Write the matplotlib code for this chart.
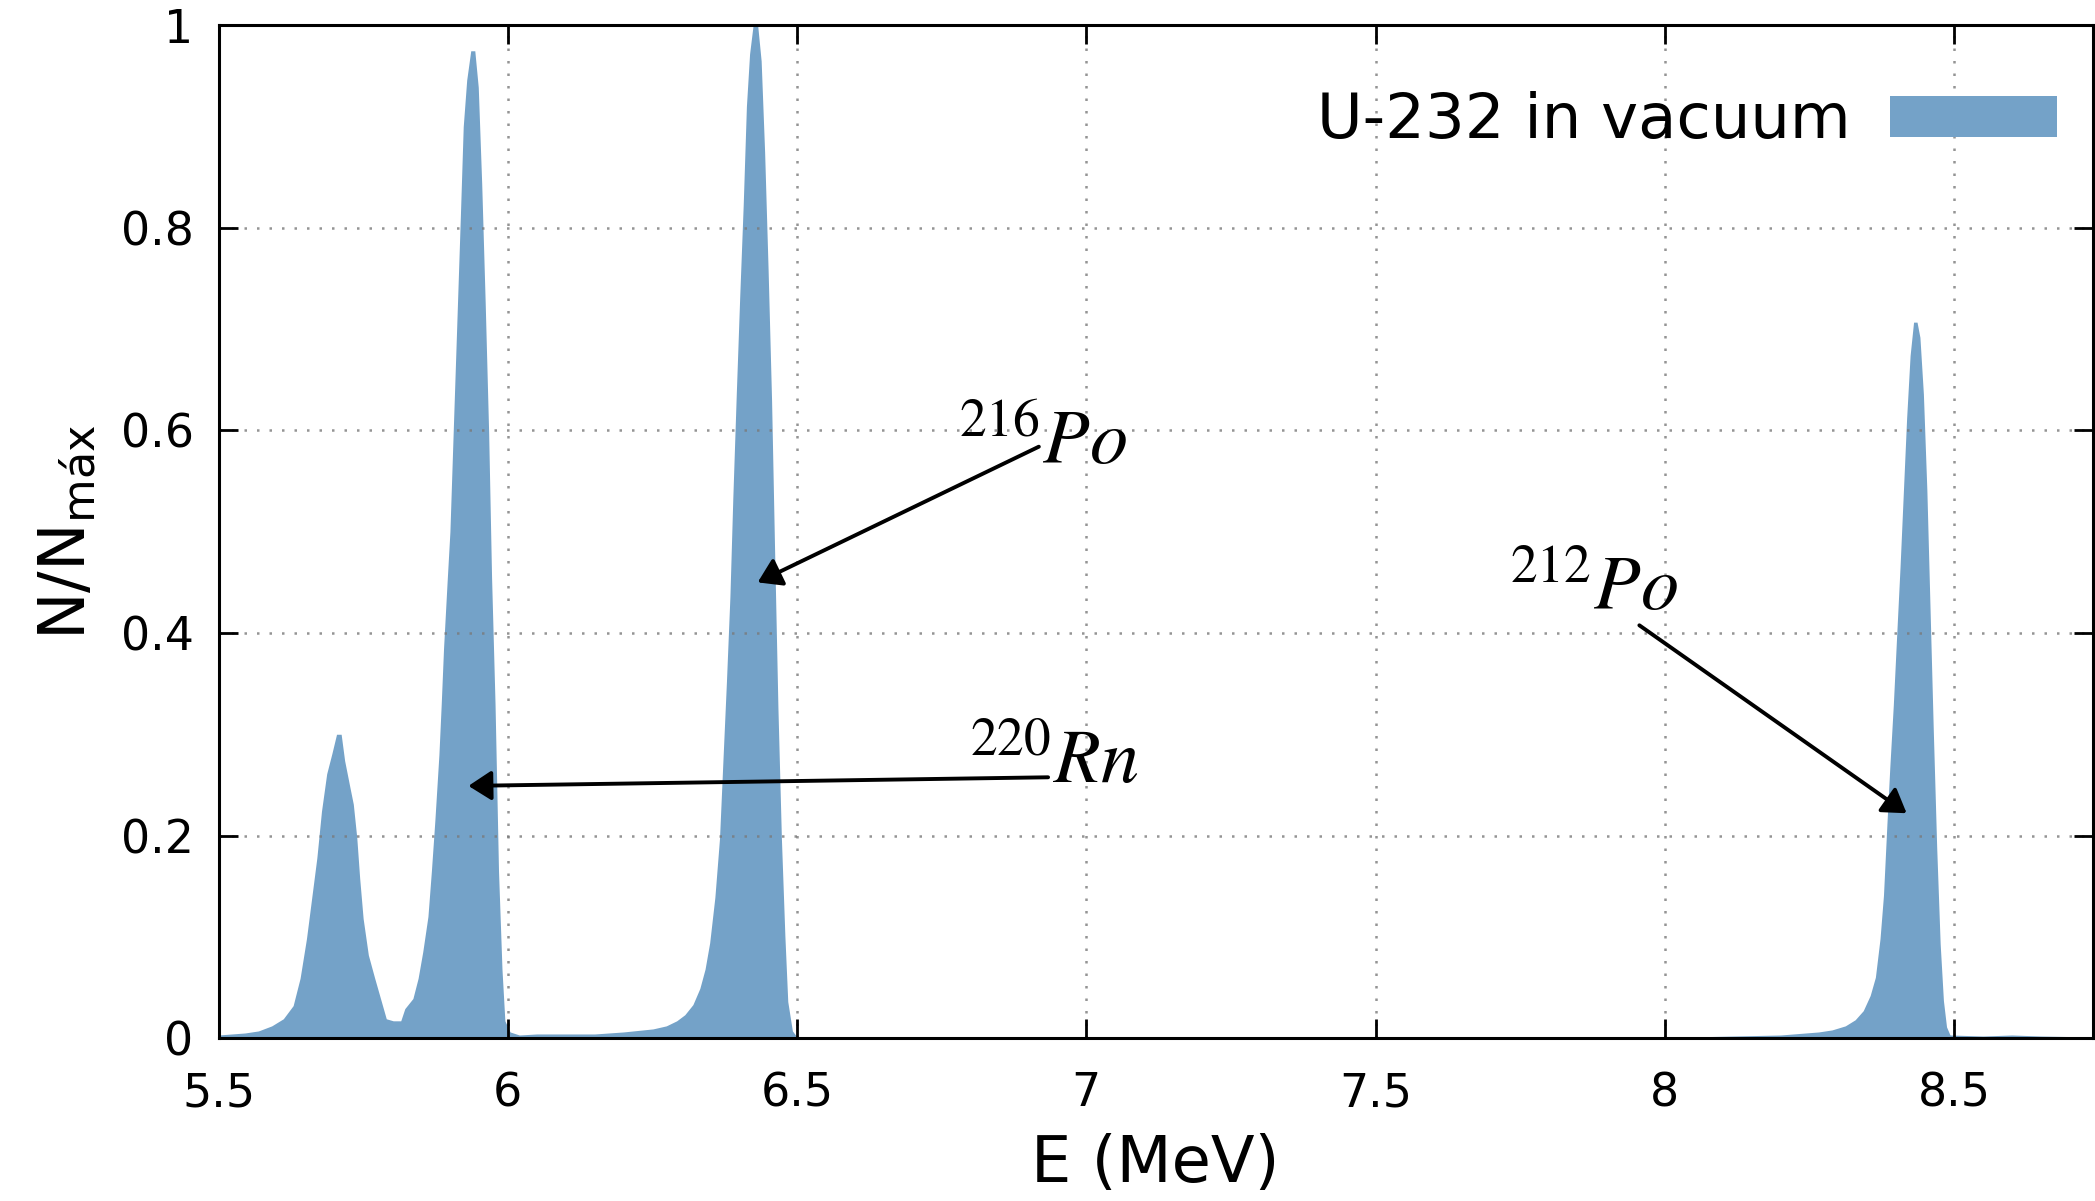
import matplotlib
matplotlib.use("Agg")
import matplotlib.pyplot as plt
from matplotlib.patches import Patch

# ---- data ----
energy = [5.500, 5.546, 5.569, 5.592, 5.612, 5.629, 5.641, 5.652, 5.661, 5.670,
          5.678, 5.687, 5.696, 5.704, 5.712, 5.718, 5.727, 5.733, 5.739, 5.744,
          5.750, 5.759, 5.770, 5.782, 5.790, 5.802, 5.815, 5.822, 5.836, 5.845,
          5.853, 5.862, 5.868, 5.874, 5.881, 5.885, 5.889, 5.895, 5.900, 5.906,
          5.912, 5.918, 5.923, 5.929, 5.936, 5.943, 5.949, 5.955, 5.961, 5.967,
          5.972, 5.978, 5.984, 5.990, 5.995, 6.004, 6.020, 6.050, 6.100, 6.150,
          6.200, 6.251, 6.274, 6.292, 6.306, 6.320, 6.332, 6.341, 6.349, 6.358,
          6.366, 6.372, 6.378, 6.384, 6.389, 6.395, 6.401, 6.407, 6.4125, 6.418,
          6.424, 6.432, 6.438, 6.444, 6.450, 6.456, 6.461, 6.467, 6.473, 6.479,
          6.484, 6.492, 6.500, 6.600, 7.000, 7.500, 8.000, 8.200, 8.266, 8.289,
          8.312, 8.329, 8.343, 8.355, 8.364, 8.372, 8.378, 8.384, 8.389, 8.395,
          8.401, 8.4067, 8.4125, 8.418, 8.424, 8.430, 8.436, 8.441, 8.447, 8.453,
          8.4585, 8.464, 8.470, 8.476, 8.4816, 8.487, 8.493, 8.550, 8.600, 8.650,
          8.740]
counts = [0.003, 0.005, 0.007, 0.012, 0.019, 0.032, 0.059, 0.098, 0.138, 0.178,
          0.224, 0.261, 0.281, 0.300, 0.300, 0.274, 0.248, 0.231, 0.198, 0.158,
          0.118, 0.082, 0.059, 0.035, 0.019, 0.017, 0.017, 0.029, 0.039, 0.059,
          0.085, 0.120, 0.165, 0.215, 0.280, 0.330, 0.385, 0.449, 0.500, 0.604,
          0.707, 0.810, 0.900, 0.946, 0.975, 0.975, 0.939, 0.843, 0.726, 0.597,
          0.455, 0.330, 0.165, 0.068, 0.017, 0.006, 0.003, 0.004, 0.004, 0.004,
          0.006, 0.009, 0.012, 0.017, 0.023, 0.033, 0.049, 0.068, 0.094, 0.139,
          0.197, 0.275, 0.352, 0.436, 0.533, 0.636, 0.733, 0.823, 0.920, 0.972,
          1.000, 1.000, 0.965, 0.875, 0.759, 0.630, 0.488, 0.326, 0.197, 0.101,
          0.036, 0.007, 0.001, 0.0005, 0.0, 0.0, 0.0005, 0.003, 0.006, 0.008,
          0.012, 0.018, 0.027, 0.042, 0.060, 0.098, 0.141, 0.212, 0.268, 0.329,
          0.400, 0.466, 0.541, 0.612, 0.674, 0.707, 0.707, 0.692, 0.636, 0.541,
          0.424, 0.306, 0.188, 0.093, 0.037, 0.011, 0.003, 0.002, 0.003, 0.002,
          0.001]

x_ticks = [5.5, 6.0, 6.5, 7.0, 7.5, 8.0, 8.5]
x_tick_labels = ["5.5", "6", "6.5", "7", "7.5", "8", "8.5"]
y_ticks = [0.0, 0.2, 0.4, 0.6, 0.8, 1.0]
y_tick_labels = ["0", "0.2", "0.4", "0.6", "0.8", "1"]

series_label = "U-232 in vacuum"

# annotations: label, text position, arrow tail, arrow head
ann_labels = [r"$^{216}Po$", r"$^{220}Rn$", r"$^{212}Po$"]
ann_text_xy = [(6.779, 0.567), (6.798, 0.252), (7.730, 0.4235)]
ann_tail_xy = [(6.918, 0.584), (6.934, 0.2575), (7.956, 0.4076)]
ann_head_xy = [(6.432, 0.450), (5.932, 0.249), (8.418, 0.222)]

fill_color = "#74a2c8"

plt.rcParams['font.family'] = ['DejaVu Sans']

fig = plt.figure(figsize=(20.95, 12.01), dpi=100)
ax = fig.add_axes([0.1043, 0.1357, 0.8947, 0.8431])

ax.fill_between(energy, counts, 0, color=fill_color, lw=0, zorder=1)

ax.set_xlim(5.5, 8.74)
ax.set_ylim(0, 1)
ax.set_xticks(x_ticks)
ax.set_xticklabels(x_tick_labels)
ax.set_yticks(y_ticks)
ax.set_yticklabels(y_tick_labels)

ax.tick_params(direction='in', length=14, width=2, top=True, right=True,
               labelsize=33, colors='black')
ax.tick_params(axis='x', pad=24)
ax.tick_params(axis='y', pad=18)
for s in ax.spines.values():
    s.set_linewidth(2.2)

ax.grid(True, color='#7a7a7a', alpha=0.8, linestyle=(0, (1, 4)), lw=1.8)

ax.set_xlabel("E (MeV)", fontsize=46, labelpad=12)
ax.set_ylabel(r"N/N$_{\mathregular{máx}}$", fontsize=46, labelpad=16,
              math_fontfamily='dejavusans')

for lab, txy, tail, head in zip(ann_labels, ann_text_xy, ann_tail_xy, ann_head_xy):
    ax.annotate("", xy=head, xytext=tail,
                arrowprops=dict(arrowstyle="-|>,head_length=0.7,head_width=0.45",
                                color='black', lw=2.8, shrinkA=0, shrinkB=0,
                                mutation_scale=20))
    ax.text(txy[0], txy[1], lab, fontsize=55, ha='left', va='baseline',
            math_fontfamily='stix')

handle = Patch(facecolor=fill_color, edgecolor='none')
leg = fig.legend([handle], [series_label], loc='center right',
                 bbox_to_anchor=(0.9819, 0.8990), bbox_transform=fig.transFigure,
                 frameon=False, fontsize=45, markerfirst=False,
                 handlelength=2.67, handleheight=0.62, handletextpad=0.64,
                 borderpad=0, borderaxespad=0)

fig.savefig("out.png", dpi=100)
